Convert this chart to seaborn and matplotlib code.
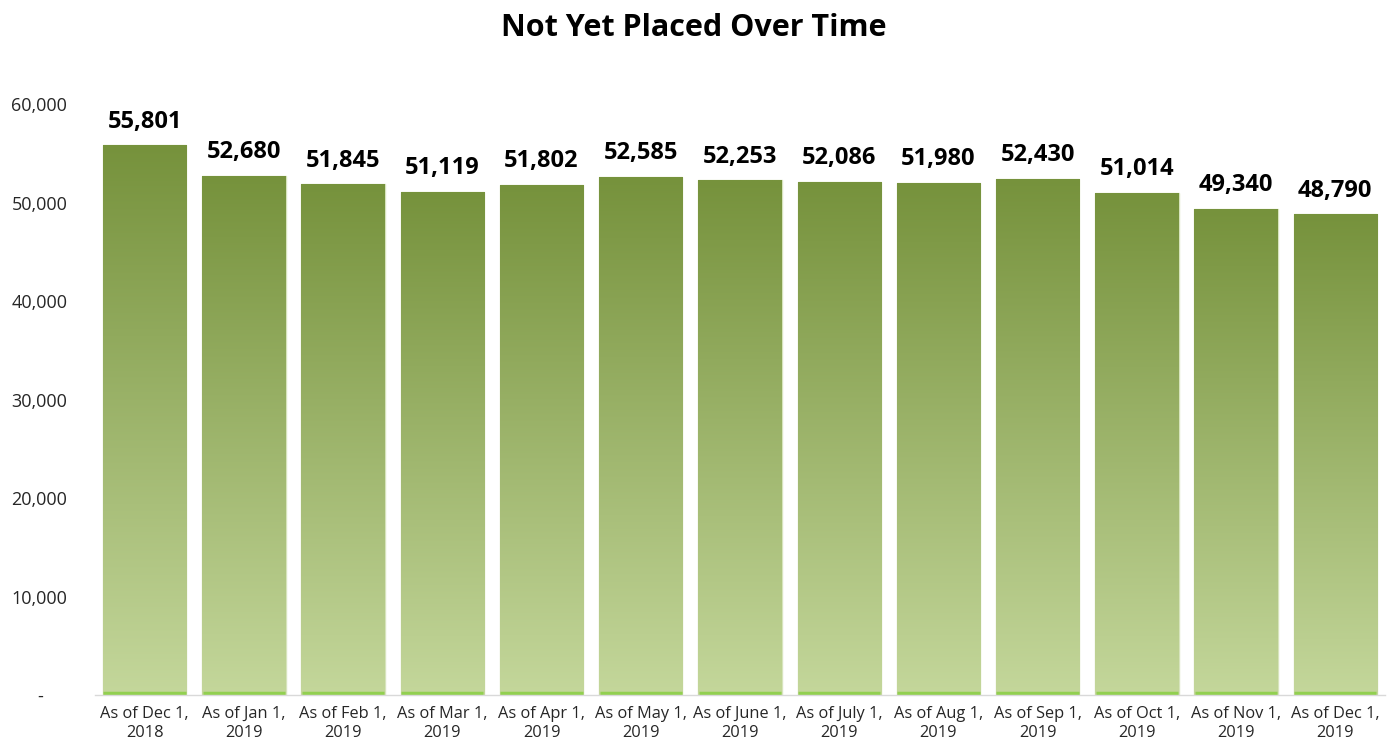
import numpy as np
import pandas as pd
import seaborn as sns
import matplotlib.pyplot as plt
from matplotlib.colors import LinearSegmentedColormap
from matplotlib.ticker import FuncFormatter

dates = ["As of Dec 1,\n2018", "As of Jan 1,\n2019", "As of Feb 1,\n2019", "As of Mar 1,\n2019",
         "As of Apr 1,\n2019", "As of May 1,\n2019", "As of June 1,\n2019", "As of July 1,\n2019",
         "As of Aug 1,\n2019", "As of Sep 1,\n2019", "As of Oct 1,\n2019", "As of Nov 1,\n2019",
         "As of Dec 1,\n2019"]
not_placed = [55801, 52680, 51845, 51119, 51802, 52585, 52253, 52086, 51980, 52430, 51014, 49340, 48790]

df = pd.DataFrame({"date": dates, "count": not_placed})

sns.set_style("white")
plt.rcParams['font.family'] = ['Open Sans', 'DejaVu Sans']

fig = plt.figure(figsize=(13.87, 7.5), dpi=100)
ax = fig.add_axes([0.0685, 0.0733, 0.930, 0.788])

sns.barplot(data=df, x="date", y="count", color="#9BBB59", width=0.84, ax=ax,
            edgecolor="#D7E4BD", linewidth=1)

# vertical gradient inside each bar
cmap = LinearSegmentedColormap.from_list("grn", ["#C4D79B", "#76923C"])
grad = np.linspace(0, 1, 256).reshape(-1, 1)
for bar in ax.patches:
    x0, y0 = bar.get_x(), bar.get_y()
    w, h = bar.get_width(), bar.get_height()
    im = ax.imshow(grad, cmap=cmap, aspect="auto", origin="lower",
                   extent=[x0, x0 + w, y0, y0 + h], zorder=bar.get_zorder() + 0.1)
    im.set_clip_path(bar)
    ax.hlines(y0 + 200, x0 + 0.005, x0 + w - 0.005, color="#92D050", lw=2.5,
              zorder=bar.get_zorder() + 0.2)
    ax.text(x0 + w / 2, y0 + h + 1200, f"{int(h):,}", ha="center", va="bottom",
            fontsize=17, fontweight="bold", color="#000000")

ax.set_xlim(-0.5, len(dates) - 0.5)
ax.set_ylim(0, 60000)
ax.set_yticks(range(0, 60001, 10000))
ax.yaxis.set_major_formatter(FuncFormatter(lambda v, p: "-     " if v == 0 else f"{int(v):,}"))
ax.tick_params(axis="y", length=0, labelsize=13, labelcolor="#262626", pad=20)
ax.tick_params(axis="x", length=0, labelsize=11.8, labelcolor="#262626", pad=8)
ax.set_xticks(np.arange(-0.5, len(dates)), minor=True)
ax.tick_params(axis="x", which="minor", length=6, color="#D9D9D9", width=1)
ax.set_xlabel("")
ax.set_ylabel("")

for s in ["top", "right", "left"]:
    ax.spines[s].set_visible(False)
ax.spines["bottom"].set_color("#D9D9D9")
ax.spines["bottom"].set_linewidth(1)

fig.text(0.5, 0.962, "Not Yet Placed Over Time", ha="center", va="center",
         fontsize=22, fontweight="bold", color="#000000")

fig.savefig("out.png", dpi=100)
